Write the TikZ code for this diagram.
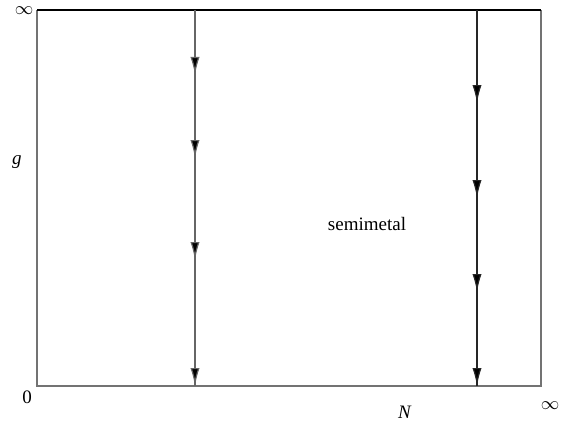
\documentclass[tikz,border=0pt]{standalone}
\usepackage{fontspec}
\setmainfont{Liberation Serif}
\usetikzlibrary{arrows.meta}

\tikzset{
  frame/.style={draw=black!55, line width=0.6pt},
  flow/.style={line width=0.6pt, -{Latex[length=9pt,width=4.6pt,fill=black]}},
  lbl/.style={inner sep=0pt, font=\fontsize{9.5}{11}\selectfont},
}

\begin{document}
\begin{tikzpicture}[x=0.5pt, y=0.5pt]
        \useasboundingbox (0,0) rectangle (566,424);
        % phase diagram frame
        \coordinate (bl) at (37,38);
        \coordinate (br) at (541,38);
        \coordinate (tl) at (37,414);
        \coordinate (tr) at (541,414);
        \draw[frame] (tl) -- (bl) -- (br) -- (tr);
        \draw[line width=0.8pt] (tl) -- (tr);
        % flow lines
        \foreach \y [count=\i from 0] in {414,349,266,164,38} {
            \coordinate (l\i) at (195,\y);
        }
        \foreach \y [count=\i from 0] in {414,321,226,132,38} {
            \coordinate (r\i) at (477,\y);
        }
        \draw[line width=0.6pt, black!60] (l0) -- (l4);
        \draw[line width=0.6pt, black!85] (r0) -- (r4);
        \foreach \i [count=\j from 0] in {1,2,3,4} {
            \draw[flow, black!60] (l\j) -- (l\i);
            \draw[flow, black!85] (r\j) -- (r\i);
        }
        % labels
        \node[lbl] (inftop) at (24,413) {$\infty$};
        \node[lbl] (gax) at (17,262) {\textit{g}};
        \node[lbl] (zero) at (27,27) {0};
        \node[lbl] (nax) at (405,12) {\textit{N}};
        \node[lbl] (infright) at (550,18) {$\infty$};
        \node[lbl] (phase) at (367,200) {semimetal};
    \end{tikzpicture}
\end{document}
